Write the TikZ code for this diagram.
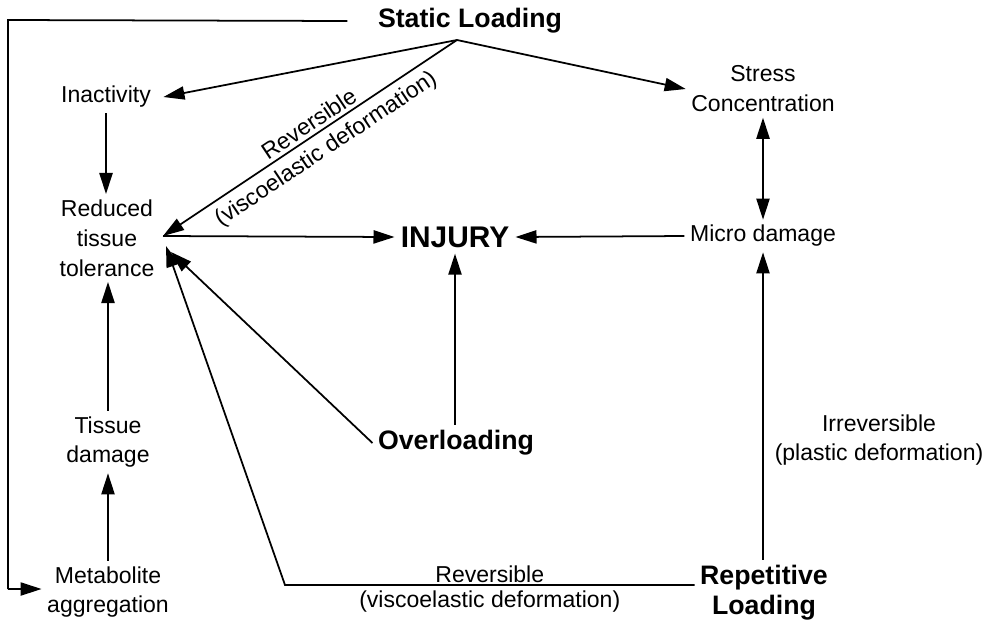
\documentclass[tikz,border=0pt]{standalone}
\usepackage{fontspec}
\setmainfont{Liberation Sans}
\usetikzlibrary{arrows.meta, positioning, calc}

\tikzset{
  txt/.style={font=\fontsize{13.1}{17}\selectfont, align=center, inner sep=3pt},
  head/.style={font=\bfseries\fontsize{15.2}{17}\selectfont, align=center, inner sep=3pt},
  link/.style={line width=1pt, -{Triangle[length=12pt, width=7.5pt]}},
  twoway/.style={line width=1pt, {Triangle[length=12pt, width=7.5pt]}-{Triangle[length=12pt, width=7.5pt]}},
}

\begin{document}
\begin{tikzpicture}[x=0.02cm, y=-0.02cm]
\useasboundingbox (0,0) rectangle (993,623);

% Loads
\node[head] (static) at (470,21) {Static Loading};
\node[head] (over) at (456,443) {Overloading};
\node[head] (rep) at (764,593) {Repetitive\\Loading};

% Left column
\node[txt, inner xsep=7pt] (inact) at (106,97) {Inactivity};
\node[txt] (reduced) at (107,238) {Reduced\\tissue\\tolerance};
\node[txt] (tissue) at (108,442) {Tissue\\damage};
\node[txt] (metab) at (108,592) {Metabolite\\aggregation};

% Centre and right
\node[font=\bfseries\fontsize{17}{20}\selectfont] (injury) at (455,237) {INJURY};
\node[txt] (stress) at (763,89) {Stress\\Concentration};
\node[txt] (micro) at (763,236) {Micro damage};
\node[txt] (irrev) at (879,440) {Irreversible\\(plastic deformation)};

% Junction points
\coordinate (sl) at (457,40);
\coordinate (rt) at (163,236);
\coordinate (rover) at (171,252);
\coordinate (rrep) at (166,246);
\coordinate (bend) at (285,585);
\coordinate (tl) at (8,20);
\coordinate (bl) at (8,589);

% Static loading paths
\draw[line width=1pt] (static.west) ++(-25,0) -- (tl) -- (bl);
\draw[link] (bl) -- (metab.west |- bl);
\draw[link] (sl) -- (inact.east);
\draw[link] (sl) -- (stress.west);
\draw[link] (sl) -- (rt)
  node[pos=0.48, sloped, above, inner sep=2pt, font=\fontsize{13.1}{17}\selectfont] {Reversible}
  node[pos=0.48, sloped, below, inner sep=4pt, font=\fontsize{13.1}{17}\selectfont] {(viscoelastic deformation)};

% Left column chain
\draw[link] (inact.south) -- (inact.south |- reduced.north);
\draw[link] (tissue.north) -- (tissue.north |- reduced.south);
\draw[link] (metab.north) -- (metab.north |- tissue.south);

% Into injury
\draw[link] (rt) -- (injury.west);
\draw[link] (micro.west) -- (injury.east);
\draw[link] (injury.south |- over.north) -- (injury.south);
\draw[link] (over.west) -- (rover);

% Repetitive loading paths
\draw[twoway] (stress.south) -- (micro.north);
\draw[link] (micro.south |- rep.north) -- (micro.south);
\draw[link] (rep.west |- bend) -- (bend)
  node[midway, above, inner sep=1pt, font=\fontsize{13.1}{17}\selectfont] {Reversible}
  node[midway, below, inner sep=3pt, font=\fontsize{13.1}{17}\selectfont] {(viscoelastic deformation)}
  -- (rrep);
\end{tikzpicture}
\end{document}
